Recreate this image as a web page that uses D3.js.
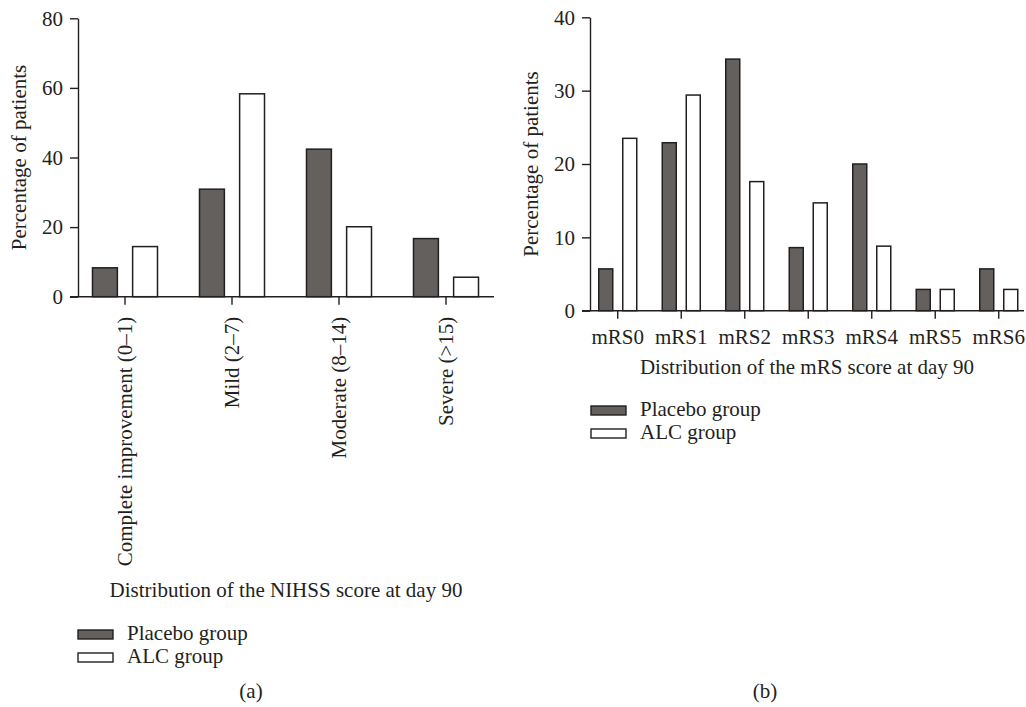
<!DOCTYPE html>
<html>
<head>
<meta charset="utf-8">
<script src="https://cdn.jsdelivr.net/npm/d3@7"></script>
<style>
  body { margin: 0; background: #fff; }
  svg text { font-family: "Liberation Serif", "DejaVu Serif", serif; font-size: 21px; fill: #231f20; }
</style>
</head>
<body>
<svg id="chart" width="1026" height="707"></svg>
<script>
// data
const nihssCats = ["Complete improvement (0–1)", "Mild (2–7)", "Moderate (8–14)", "Severe (>15)"];
const nihssPlacebo = [8.3, 30.9, 42.4, 16.7];
const nihssALC = [14.4, 58.3, 20.1, 5.6];
const nihssTicks = [0, 20, 40, 60, 80];

const mrsCats = ["mRS0", "mRS1", "mRS2", "mRS3", "mRS4", "mRS5", "mRS6"];
const mrsPlacebo = [5.7, 22.9, 34.3, 8.6, 20.0, 2.9, 5.7];
const mrsALC = [23.5, 29.4, 17.6, 14.7, 8.8, 2.9, 2.9];
const mrsTicks = [0, 10, 20, 30, 40];

const seriesNames = ["Placebo group", "ALC group"];

const dark = "#63605e";
const ink = "#231f20";
const fs = "21px";
const svg = d3.select("#chart");

function panel(opt) {
  const g = svg.append("g");
  const y = d3.scaleLinear().domain([0, opt.yMax]).range([opt.y0, opt.y1]);
  const x = d3.scaleBand().domain(opt.cats).range(opt.xRange).paddingInner(0).paddingOuter(0);
  const inner = d3.scaleBand().domain(["p", "a"]).range(opt.inner).paddingInner(opt.innerPad);

  const rows = opt.cats.map((c, i) => ({ c, p: opt.placebo[i], a: opt.alc[i] }));

  // bars
  rows.forEach(r => {
    [["p", r.p, dark], ["a", r.a, "#fff"]].forEach(([k, v, fill]) => {
      g.append("rect")
        .attr("x", x(r.c) + x.bandwidth() / 2 + inner(k))
        .attr("y", y(v))
        .attr("width", inner.bandwidth())
        .attr("height", y(0) - y(v))
        .attr("fill", fill)
        .attr("stroke", ink)
        .attr("stroke-width", 1.5);
    });
  });

  // y axis
  const ya = g.append("g")
    .attr("transform", `translate(${opt.yAxisX},0)`)
    .call(d3.axisLeft(y).tickValues(opt.ticks).tickSize(8).tickPadding(7).tickSizeOuter(0));
  ya.select(".domain").attr("stroke", ink).attr("stroke-width", 1.4);
  ya.selectAll(".tick line").attr("stroke", ink).attr("stroke-width", 1.4);
  ya.selectAll("text").style("font-size", fs).attr("fill", ink);

  // x axis
  const xa = g.append("g")
    .attr("transform", `translate(0,${opt.y0})`)
    .call(d3.axisBottom(x).tickSize(8).tickSizeOuter(0));
  xa.select(".domain").remove();
  xa.selectAll(".tick line").attr("stroke", ink).attr("stroke-width", 1.4);
  g.append("line")
    .attr("x1", opt.yAxisX - 8).attr("x2", opt.xEnd)
    .attr("y1", opt.y0).attr("y2", opt.y0)
    .attr("stroke", ink).attr("stroke-width", 1.4);

  if (opt.rotate) {
    xa.selectAll("text")
      .attr("transform", "rotate(-90)")
      .attr("x", -20).attr("y", 0).attr("dy", "0.32em")
      .attr("text-anchor", "end")
      .style("font-size", fs).attr("fill", ink);
  } else {
    xa.selectAll("text")
      .attr("y", 18).attr("dy", "0.71em")
      .style("font-size", fs).attr("fill", ink);
  }

  // axis titles
  g.append("text")
    .attr("transform", `translate(${opt.yTitleX},${(opt.y0 + opt.y1) / 2}) rotate(-90)`)
    .attr("text-anchor", "middle")
    .text("Percentage of patients");
  g.append("text")
    .attr("x", (opt.yAxisX + opt.xEnd) / 2).attr("y", opt.xTitleY)
    .attr("text-anchor", "middle")
    .text(opt.xTitle);

  // legend
  seriesNames.forEach((s, i) => {
    const ly = opt.legendY + i * 23;
    g.append("rect")
      .attr("x", opt.legendX).attr("y", ly - 10)
      .attr("width", 35).attr("height", 9)
      .attr("fill", i === 0 ? dark : "#fff")
      .attr("stroke", ink).attr("stroke-width", 1.4);
    g.append("text")
      .attr("x", opt.legendX + 49).attr("y", ly)
      .text(s);
  });

  g.append("text")
    .attr("x", opt.labelX).attr("y", 698)
    .attr("text-anchor", "middle")
    .text(opt.label);
}

panel({
  cats: nihssCats, placebo: nihssPlacebo, alc: nihssALC, ticks: nihssTicks, yMax: 80,
  y0: 296.7, y1: 18.3, xRange: [71.5, 499.5], inner: [-32.5, 32.5], innerPad: 0.38,
  yAxisX: 78, xEnd: 494, rotate: true, yTitleX: 26,
  xTitle: "Distribution of the NIHSS score at day 90", xTitleY: 597,
  legendX: 78, legendY: 640, labelX: 251, label: "(a)"
});

panel({
  cats: mrsCats, placebo: mrsPlacebo, alc: mrsALC, ticks: mrsTicks, yMax: 40,
  y0: 310.7, y1: 17.3, xRange: [586, 1030.5], inner: [-19, 19], innerPad: 0.4167,
  yAxisX: 590, xEnd: 1024, rotate: false, yTitleX: 538,
  xTitle: "Distribution of the mRS score at day 90", xTitleY: 374,
  legendX: 591, legendY: 416, labelX: 765, label: "(b)"
});
</script>
</body>
</html>
